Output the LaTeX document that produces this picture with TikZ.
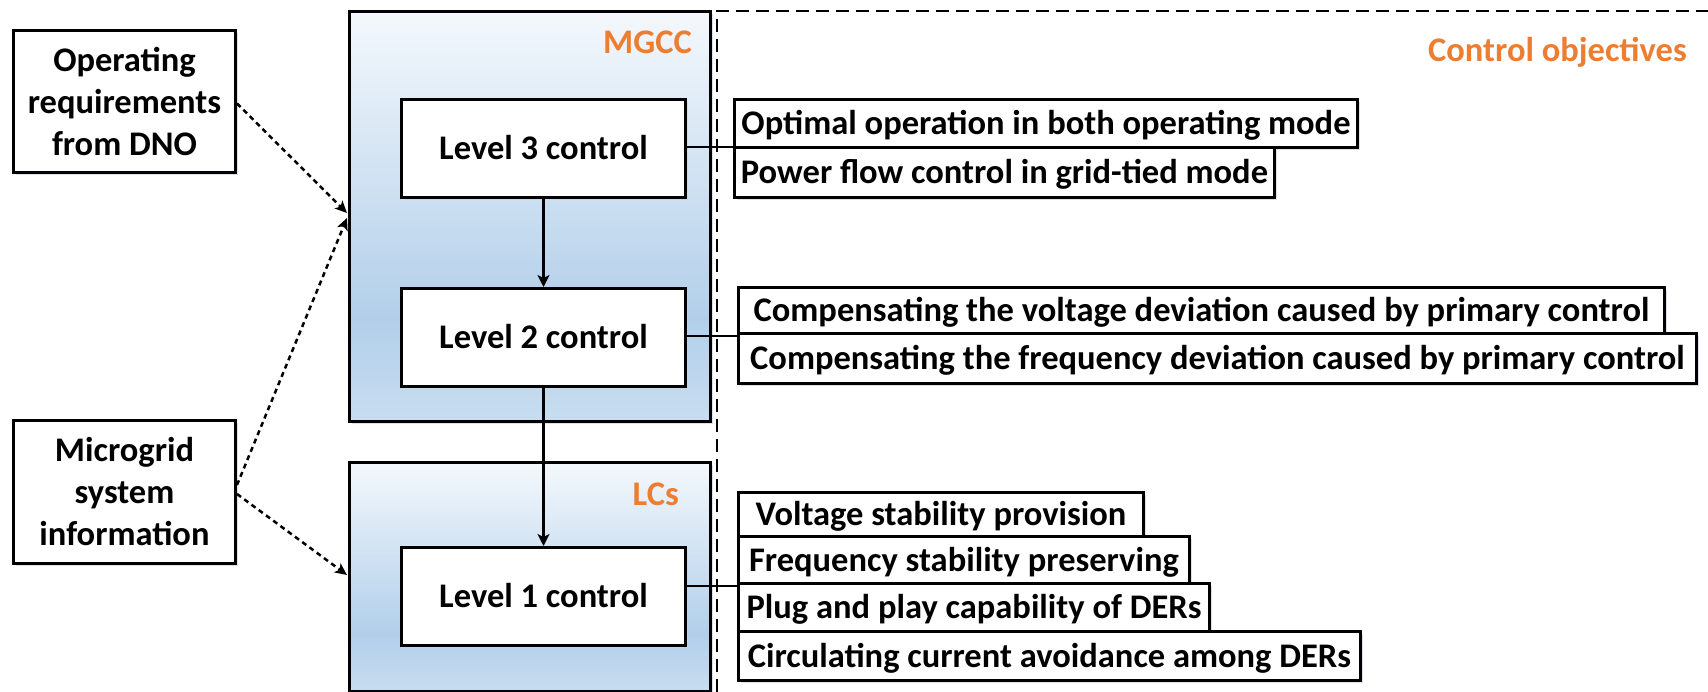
\documentclass[tikz,border=0pt]{standalone}
\usepackage{fontspec}
\setmainfont{Carlito}
\usetikzlibrary{arrows.meta,shadows,calc}
\definecolor{orng}{HTML}{ED7D31}
\definecolor{shT}{HTML}{F4F8FC}
\definecolor{shM}{HTML}{B2CFEA}
\definecolor{shB}{HTML}{C8DDF0}
\definecolor{shd}{HTML}{C9D6E3}
\pgfdeclareverticalshading{ctrlshade}{100bp}{color(0bp)=(shB); color(25bp)=(shB); color(37.5bp)=(shM); color(75bp)=(shT); color(100bp)=(shT)}
\tikzset{
  bigfont/.style={font=\bfseries\fontsize{34.5}{42}\selectfont},
  softshadow/.style={drop shadow={shadow xshift=2.5pt, shadow yshift=-2.5pt, fill=shd, opacity=0.7}},
  group/.style={draw, line width=3pt, shading=ctrlshade, anchor=north west, inner sep=0pt, softshadow},
  lvl/.style={draw, line width=3pt, fill=white, anchor=north west, inner sep=0pt, bigfont,
    minimum width=284pt, minimum height=98pt, text height=22pt, text depth=0pt, softshadow},
  src/.style={draw, line width=3pt, fill=white, anchor=north west, inner sep=0pt, bigfont,
    minimum width=222pt, minimum height=142pt, align=center, softshadow},
  obj/.style={draw, line width=3pt, fill=white, anchor=north west, inner sep=0pt, bigfont,
    text height=22pt, text depth=0pt, softshadow},
  lbl/.style={text=orng, bigfont, inner sep=0pt, text height=22pt, text depth=0pt, anchor=east},
  flow/.style={line width=2.3pt, -{Stealth[length=12pt,width=12pt,inset=3pt]}},
  info/.style={line width=2.5pt, dash pattern=on 5pt off 4pt, -{Stealth[length=12pt,width=11pt,inset=3pt]}},
  tie/.style={line width=2pt},
  dashline/.style={line width=1.3pt, dash pattern=on 13pt off 7pt}
}
\begin{document}
\begin{tikzpicture}[x=1pt,y=-1pt]
\useasboundingbox (0,0) rectangle (1708,692);
% frame of control objectives
\coordinate (fc) at (717,11);
\coordinate (fb) at (717,692);
\coordinate (fr) at (1708,11);
\draw[dashline] (fb) -- (fc) -- (fr);
% groups
\node[group, minimum width=361pt, minimum height=410pt] (mgcc) at (348,10) {};
\node[group, minimum width=361pt, minimum height=229pt] (lcs) at (348,461) {};
\node[lbl] (mgccl) at (692,43) {MGCC};
\node[lbl] (lcsl) at (679,494) {LCs};
\node[lbl] (cobj) at (1687,51) {Control objectives};
% sources
\node[src] (op) at (12,29) {Operating\\requirements\\from DNO};
\node[src, minimum height=143pt] (mg) at (12,419) {Microgrid\\system\\information};
% levels
\node[lvl] (l3) at (400,98) {Level 3 control};
\node[lvl] (l2) at (400,287) {Level 2 control};
\node[lvl] (l1) at (400,546) {Level 1 control};
% objectives
\node[obj, minimum width=623pt, minimum height=48pt] (o1) at (733,98) {Optimal operation in both operating mode};
\node[obj, minimum width=540pt, minimum height=50pt] (o2) at (733,146) {Power flow control in grid-tied mode};
\node[obj, minimum width=926pt, minimum height=46pt] (c1) at (737,286) {Compensating the voltage deviation caused by primary control};
\node[obj, minimum width=958pt, minimum height=50pt] (c2) at (737,332) {Compensating the frequency deviation caused by primary control};
\node[obj, minimum width=405pt, minimum height=44pt] (v1) at (737,491) {Voltage stability provision};
\node[obj, minimum width=451pt, minimum height=47pt] (v2) at (737,535) {Frequency stability preserving};
\node[obj, minimum width=471pt, minimum height=48pt] (v3) at (737,582) {Plug and play capability of DERs};
\node[obj, minimum width=622pt, minimum height=49pt] (v4) at (737,630) {Circulating current avoidance among DERs};
% connectors
\draw[flow] (l3.south) -- (l2.north);
\draw[flow] (l2.south) -- (l1.north);
\draw[tie] ([yshift=1.5pt]o1.south west -| l3.east) -- ([yshift=1.5pt]o1.south west);
\draw[tie] ([yshift=-1pt]c1.south west -| l2.east) -- ([yshift=-1pt]c1.south west);
\draw[tie] ([yshift=-1pt]v2.south west -| l1.east) -- ([yshift=-1pt]v2.south west);
\coordinate (t1) at (347,213);
\coordinate (t2) at (347,218);
\coordinate (t3) at (347,575);
\draw[info] ([yshift=-2pt]op.east) -- (t1);
\draw[info] ([yshift=7pt]mg.east) -- (t2);
\draw[info] ([yshift=-2pt]mg.east) -- (t3);
\end{tikzpicture}
\end{document}
